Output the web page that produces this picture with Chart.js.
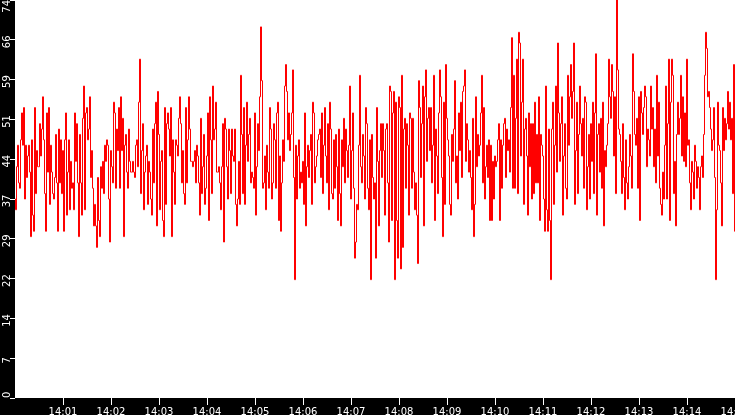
<!DOCTYPE html>
<html>
<head>
<meta charset="utf-8">
<script src="https://cdn.jsdelivr.net/npm/chart.js@4.4.1/dist/chart.umd.min.js"></script>
<style>
  html, body { margin: 0; padding: 0; background: #000; overflow: hidden; }
  #wrap { position: relative; width: 735px; height: 415px; }
</style>
</head>
<body>
<div id="wrap"><canvas id="c"></canvas></div>
<script>
// ---- data ----
const axisSpanSeconds = 900; // 14:00 .. 14:15
const xTickSeconds = [60, 120, 180, 240, 300, 360, 420, 480, 540, 600, 660, 720, 780, 840, 900];
const xTickLabels = ['14:01', '14:02', '14:03', '14:04', '14:05', '14:06', '14:07', '14:08', '14:09', '14:10', '14:11', '14:12', '14:13', '14:14', '14:15'];
const yTickValues = [0, 7.4, 14.8, 22.2, 29.6, 37, 44.4, 51.8, 59.2, 66.6, 74];
const yTickLabels = ['0', '7', '14', '22', '29', '37', '44', '51', '59', '66', '74'];
const yMin = 0;
const yMax = 74;

const values = [
  // 14:00 - 14:02.5
  37,35,43,47,40,39,48,53,47,54,37,47,41,45,47,42,30,48,34,31,54,38,46,43,43,51,45,50,56,48,38,31,53,42,54,36,47,42,38,37,
  41,49,40,31,50,40,48,38,46,31,48,53,34,42,48,35,44,39,40,35,53,44,51,40,30,49,40,34,52,58,35,53,54,48,50,56,41,46,39,32,
  36,32,28,41,33,30,43,39,44,38,47,44,48,47,37,29,46,43,40,55,53,39,50,46,54,39,56,46,52,30,47,49,42,39,50,44,42,42,44,42,
  // 14:02.5 - 14:05
  41,47,48,43,55,63,38,46,51,35,42,45,47,36,44,42,37,34,50,40,51,55,32,57,49,35,44,46,33,30,54,36,51,53,50,45,54,30,48,42,
  36,48,47,45,52,56,51,40,46,38,36,54,40,48,56,50,44,44,43,44,46,40,47,45,40,34,52,38,43,49,36,39,45,53,33,56,48,38,58,48,
  50,55,42,42,43,40,35,43,51,29,52,50,43,37,50,46,38,50,45,44,50,36,32,37,44,36,60,49,38,54,36,47,55,44,49,52,40,42,41,39,
  // 14:05 - 14:07.5
  53,34,43,51,46,56,69,59,39,40,45,35,47,42,39,54,50,37,40,51,48,39,53,55,33,45,31,40,48,44,58,62,57,48,53,46,49,53,61,41,
  22,47,37,45,48,39,42,40,44,36,53,32,43,47,41,46,49,36,55,53,40,43,45,48,49,50,41,53,38,47,54,45,40,51,35,55,50,38,37,
  48,39,49,43,33,50,38,32,48,43,52,40,50,46,41,47,58,37,46,53,39,26,29,36,35,47,60,43,40,49,45,37,54,51,39,35,48,22,49,41,37,
  // 14:07.5 - 14:10
  40,26,54,44,32,46,51,41,51,46,34,50,51,40,29,58,57,33,53,57,22,55,33,26,56,54,24,60,28,50,52,39,51,47,34,53,52,39,52,
  42,35,40,34,25,59,54,41,51,58,32,56,61,44,52,54,46,54,40,47,60,33,50,45,38,53,61,56,41,30,55,36,62,52,48,45,36,34,49,
  44,50,59,40,45,37,53,46,55,41,57,58,61,44,51,48,42,46,41,35,52,30,36,56,43,49,45,47,53,60,40,54,37,43,47,41,48,33,47,33,44,37,
  // 14:10 - 14:12.5
  45,43,44,48,51,33,48,39,47,51,52,41,50,46,48,42,54,67,39,60,39,52,63,38,68,66,45,55,63,36,50,52,45,34,53,43,51,37,51,38,
  55,40,49,40,56,33,49,47,45,37,31,58,35,31,50,33,22,50,55,36,47,58,42,66,53,44,51,56,34,45,51,39,37,60,47,56,62,52,57,
  66,36,46,55,38,49,58,51,45,52,39,56,55,35,43,49,37,51,44,55,38,53,64,34,49,51,42,52,39,55,32,46,43,47,51,63,56,52,62,57,45,
  // 14:12.5 - 14:15
  56,38,74,61,50,49,44,38,51,41,35,48,40,37,43,49,45,39,64,57,49,47,52,39,56,33,57,53,49,54,58,56,43,50,48,45,58,50,54,43,
  50,40,60,45,55,39,36,34,42,37,47,58,37,51,63,33,55,63,60,38,44,32,49,55,49,52,60,45,56,44,53,43,63,47,48,40,35,44,42,37,
  47,44,39,43,41,35,43,45,41,49,60,68,65,56,57,54,50,46,48,54,41,22,35,55,47,46,40,32,54,46,52,48,51,57,50,55,48,52,38,62,31
];

// ---- build chart ----
const points = values.map((v, i) => ({ x: i * axisSpanSeconds / (values.length - 1), y: v }));

const bgPlugin = {
  id: 'bands',
  beforeDraw(chart) {
    const { ctx, chartArea: a } = chart;
    ctx.save();
    ctx.fillStyle = '#000';
    ctx.fillRect(0, 0, chart.width, chart.height);
    ctx.fillStyle = '#fff';
    ctx.fillRect(a.left, a.top, a.right - a.left, a.bottom - a.top);
    ctx.restore();
  }
};

const yLabelPlugin = {
  id: 'yLabels',
  afterDraw(chart) {
    const s = chart.scales.y;
    const ctx = chart.ctx;
    ctx.save();
    ctx.fillStyle = '#fff';
    ctx.font = '10px "DejaVu Sans"';
    ctx.textBaseline = 'alphabetic';
    const n = yTickValues.length;
    yTickValues.forEach((v, i) => {
      const py = s.getPixelForValue(v);
      ctx.save();
      let align = 'center', yy = py + 2;
      if (i === 0) { align = 'left'; yy = py; }
      if (i === n - 1) { align = 'right'; yy = py; }
      ctx.translate(9.5, yy);
      ctx.rotate(-Math.PI / 2);
      ctx.textAlign = align;
      ctx.fillText(yTickLabels[i], 0, 0);
      ctx.restore();
    });
    ctx.restore();
  }
};

new Chart(document.getElementById('c'), {
  type: 'line',
  data: {
    datasets: [{
      data: points,
      borderColor: '#ff0000',
      borderWidth: 1,
      pointRadius: 0,
      stepped: 'middle',
      fill: false
    }]
  },
  options: {
    responsive: true,
    maintainAspectRatio: false,
    animation: false,
    layout: { padding: 0 },
    plugins: { legend: { display: false }, tooltip: { enabled: false } },
    scales: {
      x: {
        type: 'linear',
        min: 0,
        max: axisSpanSeconds,
        border: { display: false },
        grid: { drawOnChartArea: false, color: '#fff', tickLength: 7, tickWidth: 1 },
        afterBuildTicks: (scale) => { scale.ticks = xTickSeconds.map(v => ({ value: v })); },
        ticks: {
          color: '#fff',
          font: { family: 'DejaVu Sans', size: 10 },
          padding: 1,
          autoSkip: false,
          maxRotation: 0,
          minRotation: 0,
          callback: (value) => xTickLabels[xTickSeconds.indexOf(value)]
        },
        afterFit: (scale) => {
          scale.height = 17;
          scale.paddingLeft = 0;
          scale.paddingRight = 0;
        }
      },
      y: {
        min: yMin,
        max: yMax,
        border: { display: false },
        grid: { drawOnChartArea: false, color: '#fff', tickLength: 5, tickWidth: 1 },
        afterBuildTicks: (scale) => { scale.ticks = yTickValues.map(v => ({ value: v })); },
        ticks: { display: false },
        afterFit: (scale) => {
          scale.width = 15;
          scale.paddingTop = 0;
          scale.paddingBottom = 0;
        }
      }
    }
  },
  plugins: [bgPlugin, yLabelPlugin]
});
</script>
</body>
</html>
